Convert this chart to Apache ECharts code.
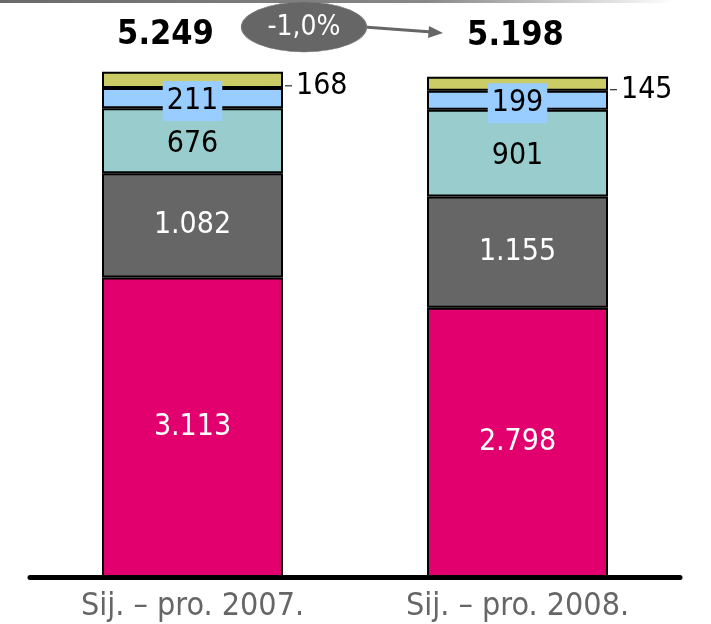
<!DOCTYPE html>
<html>
<head>
<meta charset="utf-8">
<script src="https://cdn.jsdelivr.net/npm/echarts@6/dist/echarts.min.js"></script>
<style>html,body{margin:0;padding:0;background:#fff}#c{width:711px;height:624px}</style>
</head>
<body>
<div id="c"></div>
<script>
const categories = ['Sij. – pro. 2007.', 'Sij. – pro. 2008.'];
const pinkValues = [3113, 2798];
const grayValues = [1082, 1155];
const tealValues = [676, 901];
const blueValues = [211, 199];
const yellowValues = [168, 145];
const totals = [5249, 5198];
const changeText = '-1,0%';

const FONT = "'Liberation Sans Narrow', 'Arial Narrow', 'DejaVu Sans Condensed', 'Roboto Condensed', sans-serif";
const fmt = v => String(v).replace(/\B(?=(\d{3})+(?!\d))/g, '.');

const border = { borderColor: '#000', borderWidth: 2 };

const chart = echarts.init(document.getElementById('c'));
chart.setOption({
  animation: false,
  textStyle: { fontFamily: FONT },
  grid: { left: 30, right: 31, top: 40, bottom: 47 },
  xAxis: {
    type: 'category',
    data: categories,
    axisTick: { show: false },
    axisLine: { lineStyle: { color: '#000', width: 5 } },
    axisLabel: { color: '#666', fontSize: 32, fontFamily: FONT, margin: 14 }
  },
  yAxis: { type: 'value', min: 0, max: 5580, show: false, splitLine: { show: false } },
  series: [
    {
      type: 'bar', stack: 's', barWidth: 181, data: pinkValues,
      itemStyle: Object.assign({ color: '#E2006F' }, border),
      label: { show: true, position: 'inside', color: '#fff', fontSize: 30, fontFamily: FONT, formatter: p => fmt(p.value) }
    },
    {
      type: 'bar', stack: 's', data: grayValues,
      itemStyle: Object.assign({ color: '#666666' }, border),
      label: { show: true, position: 'inside', color: '#fff', fontSize: 30, fontFamily: FONT, formatter: p => fmt(p.value) }
    },
    {
      type: 'bar', stack: 's', data: tealValues,
      itemStyle: Object.assign({ color: '#99CCCC' }, border),
      label: { show: true, position: 'inside', color: '#000', fontSize: 30, fontFamily: FONT, formatter: p => fmt(p.value) },
      labelLayout: { dy: 3 }
    },
    {
      type: 'bar', stack: 's', data: blueValues,
      itemStyle: Object.assign({ color: '#99CCFF' }, border),
      label: { show: true, position: 'inside', color: '#000', fontSize: 30, fontFamily: FONT,
        backgroundColor: '#99CCFF', padding: [5, 4], lineHeight: 30, formatter: p => fmt(p.value) },
      labelLayout: { dy: 3 }
    },
    {
      type: 'bar', stack: 's', data: yellowValues,
      itemStyle: Object.assign({ color: '#CCCC66' }, border),
      label: { show: true, position: 'right', distance: 2, formatter: p => '{d|}{v|' + fmt(p.value) + '}',
        rich: {
          d: { width: 7, height: 1, backgroundColor: '#000' },
          v: { color: '#000', fontSize: 30, fontFamily: FONT, padding: [0, 0, 0, 4] }
        }
      },
      labelLayout: { dy: 6 }
    },
    {
      type: 'bar', stack: 's', data: [0, 0],
      itemStyle: { color: 'transparent' },
      label: { show: true, position: 'top', distance: 0, color: '#000', fontSize: 34, fontWeight: 'bold', fontFamily: FONT,
        formatter: p => fmt(totals[p.dataIndex]) },
      labelLayout: p => ({ dx: p.dataIndex === 0 ? -27 : -2, dy: p.dataIndex === 0 ? -20 : -24 })
    }
  ],
  graphic: [
    { type: 'rect', left: 0, top: 0, shape: { width: 711, height: 3 },
      style: { fill: new echarts.graphic.LinearGradient(0, 0, 1, 0, [
        { offset: 0, color: '#6a6a6a' }, { offset: 0.6, color: '#888888' }, { offset: 0.95, color: '#ffffff' }]) } },
    { type: 'line', shape: { x1: 364, y1: 27, x2: 432, y2: 32 }, style: { stroke: '#666', lineWidth: 3 } },
    { type: 'polygon', shape: { points: [[443, 33], [429, 26], [428, 38]] }, style: { fill: '#666' } },
    { type: 'circle', x: 304, y: 27, scaleX: 2.5, scaleY: 1, shape: { cx: 0, cy: 0, r: 25 },
      style: { fill: '#666', stroke: '#777', lineWidth: 0.5 } },
    { type: 'text', x: 304, y: 28, style: { text: changeText, fill: '#fff', font: '28px ' + FONT, align: 'center', verticalAlign: 'middle' } }
  ]
});
</script>
</body>
</html>
